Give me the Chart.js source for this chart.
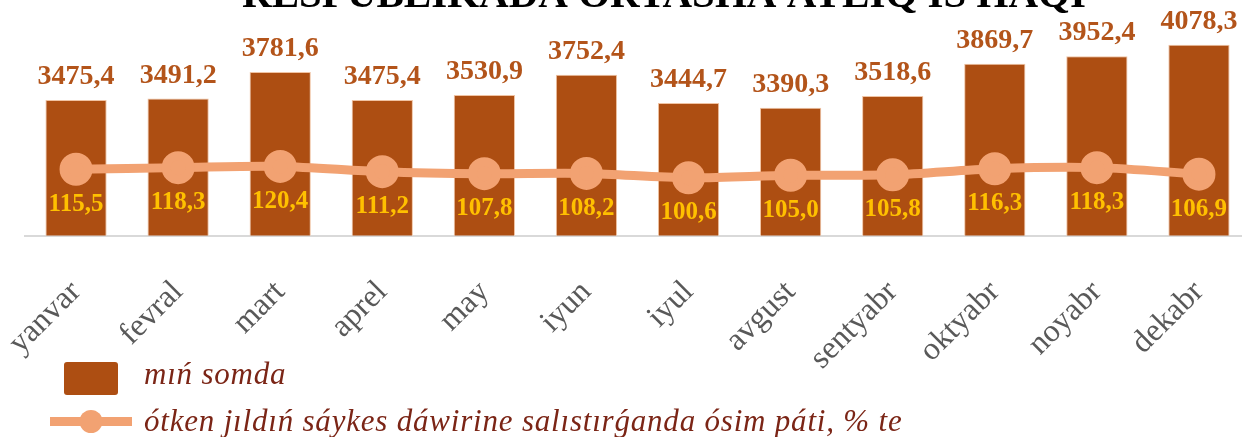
<!DOCTYPE html>
<html>
<head>
<meta charset="utf-8">
<script src="https://cdn.jsdelivr.net/npm/chart.js@4"></script>
<style>
  html, body { margin: 0; padding: 0; background: #fff; overflow: hidden; }
  #wrap { width: 1250px; height: 437px; }
</style>
</head>
<body>
<div id="wrap"><canvas id="chartDisplay" width="1250" height="437"></canvas></div>
<script>
const chartDisplay = document.getElementById('chartDisplay');

// months, wage in thousand sum, growth vs same period of last year (%)
const months = ['yanvar','fevral','mart','aprel','may','iyun','iyul','avgust','sentyabr','oktyabr','noyabr','dekabr'];
const wages = [3475.4, 3491.2, 3781.6, 3475.4, 3530.9, 3752.4, 3444.7, 3390.3, 3518.6, 3869.7, 3952.4, 4078.3];
const growth = [115.5, 118.3, 120.4, 111.2, 107.8, 108.2, 100.6, 105.0, 105.8, 116.3, 118.3, 106.9];
const titleText = 'RESPUBLIKADA ORTASHA AYLÍQ IS HAQÍ';
const wageLabel = 'mıń somda';
const growthLabel = 'ótken jıldıń sáykes dáwirine salıstırǵanda ósim páti, % te';

const barColor = '#ad4e12';
const lineColor = '#f2a272';

// numbers are written with a decimal comma
function fmt(v){
    return v.toFixed(1).replace('.', ',');
}

// value labels above the bars and under the line points
const valueLabels = {
    id: 'valueLabels',
    afterDatasetsDraw(chart){
        const ctx = chart.ctx;
        ctx.save();
        ctx.textAlign = 'center';

        const bars = chart.getDatasetMeta(1).data;
        ctx.font = 'bold 28px "Liberation Serif"';
        ctx.fillStyle = '#b3541a';
        ctx.textBaseline = 'alphabetic';
        bars.forEach((bar, i) => {
            ctx.fillText(fmt(wages[i]), bar.x, bar.y - 16);
        });

        const points = chart.getDatasetMeta(0).data;
        ctx.font = 'bold 25px "Liberation Serif"';
        ctx.fillStyle = '#ffc000';
        ctx.textBaseline = 'middle';
        points.forEach((pt, i) => {
            ctx.fillText(fmt(growth[i]), pt.x, pt.y + 35);
        });
        ctx.restore();
    }
};

// title (runs off the top edge) and the legend at the bottom
const decorations = {
    id: 'decorations',
    afterDraw(chart){
        const ctx = chart.ctx;
        ctx.save();
        ctx.fillStyle = '#000';
        ctx.textAlign = 'center';
        ctx.textBaseline = 'alphabetic';
        ctx.font = 'bold 40px "Liberation Serif"';
        const w = ctx.measureText(titleText).width;
        const size = Math.round(40 * 850 / w);
        ctx.font = 'bold ' + size + 'px "Liberation Serif"';
        ctx.fillText(titleText, 664, 7);

        // legend
        const ds = chart.data.datasets;
        ctx.fillStyle = ds[1].backgroundColor;
        ctx.beginPath();
        ctx.roundRect(64, 362, 54, 33, 3);
        ctx.fill();

        ctx.strokeStyle = ds[0].borderColor;
        ctx.lineWidth = 9;
        ctx.beginPath();
        ctx.moveTo(50, 421.5);
        ctx.lineTo(132, 421.5);
        ctx.stroke();
        ctx.fillStyle = ds[0].pointBackgroundColor;
        ctx.beginPath();
        ctx.arc(91, 421.5, 11.5, 0, Math.PI * 2);
        ctx.fill();

        ctx.fillStyle = '#7b2516';
        ctx.textAlign = 'left';
        ctx.font = 'italic 31px "Liberation Serif"';
        ctx.letterSpacing = '0.8px';
        ctx.fillText(ds[1].label, 144, 384);
        ctx.fillText(ds[0].label, 144, 431);
        ctx.restore();
    }
};

let chart = new Chart(chartDisplay, {
    type: 'bar',
    data: {
        labels: months,
        datasets: [{
            type: 'line',
            label: growthLabel,
            data: growth,
            yAxisID: 'y1',
            borderColor: lineColor,
            borderWidth: 9,
            pointBackgroundColor: lineColor,
            pointBorderColor: lineColor,
            pointRadius: 12,
            tension: 0.3,
            order: 0
        }, {
            label: wageLabel,
            data: wages,
            yAxisID: 'y',
            backgroundColor: barColor,
            borderColor: '#f0c3a3',
            borderWidth: 1,
            barPercentage: 0.6,
            categoryPercentage: 1,
            order: 1
        }]
    },
    options: {
        responsive: false,
        animation: false,
        layout: { autoPadding: false, padding: { top: 6, left: 25, right: 0, bottom: 0 } },
        plugins: {
            legend: { display: false },
            tooltip: { enabled: false }
        },
        scales: {
            x: {
                grid: { display: false, drawTicks: false },
                border: { color: '#d9d9d9', width: 2 },
                ticks: {
                    autoSkip: false,
                    minRotation: 45,
                    maxRotation: 45,
                    padding: 38,
                    color: '#595959',
                    font: { family: 'Liberation Serif', size: 32 }
                },
                afterFit(scale){
                    scale.height = 201.5;
                    scale.paddingLeft = 0;
                    scale.paddingRight = 0;
                }
            },
            y: {
                display: false,
                min: 2000,
                max: 4500
            },
            y1: {
                display: false,
                min: 0,
                max: 400
            }
        }
    },
    plugins: [valueLabels, decorations]
});
</script>
</body>
</html>
